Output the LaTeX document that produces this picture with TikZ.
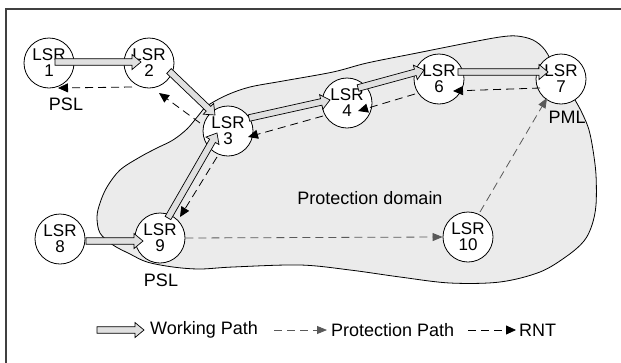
\documentclass[tikz,border=0pt]{standalone}
\usepackage{fontspec}
\setmainfont{Liberation Sans}
\usetikzlibrary{calc,arrows.meta}
\newcommand\fatarrow[2]{%
  \coordinate (fa-a) at #1;
  \coordinate (fa-b) at #2;
  \coordinate (fa-h) at ($(fa-b)!9pt!(fa-a)$);
  \draw[fatarr] ($(fa-a)!3.3pt!90:(fa-b)$) -- ($(fa-h)!3.3pt!-90:(fa-a)$)
    -- ($(fa-h)!7.5pt!-90:(fa-a)$) -- (fa-b) -- ($(fa-h)!7.5pt!90:(fa-a)$)
    -- ($(fa-h)!3.3pt!90:(fa-a)$) -- ($(fa-a)!3.3pt!-90:(fa-b)$) -- cycle;}
\tikzset{
  lsr/.style={circle, draw, fill=white, line width=0.8pt, minimum size=50pt, inner sep=0pt,
    align=center, font=\fontsize{17}{16}\selectfont},
  lbl/.style={inner sep=0pt, font=\fontsize{18}{20}\selectfont},
  fatarr/.style={draw, line width=0.7pt, fill=black!12, line join=miter},
  rnt/.style={draw=black, line width=0.8pt, dash pattern=on 8pt off 5pt,
    -{Triangle[length=10pt,width=9pt]}},
  prot/.style={draw=black!65, line width=0.8pt, dash pattern=on 8pt off 5pt,
    -{Triangle[length=10pt,width=8pt]}},
  cloudst/.style={draw, line width=0.8pt, fill=black!8},
}
\begin{document}
\begin{tikzpicture}[x=1pt,y=-1pt]
\useasboundingbox (0,0) rectangle (621,362);
\clip (0,0) rectangle (621,362);
\draw[line width=1.5pt, black!75] (6,9) rectangle (700,420);
% protection domain
\draw[cloudst] plot[smooth cycle, tension=0.55] coordinates {
 (207,106) (227,95) (250,87) (283,81) (333,72) (367,63) (417,53) (467,43) (500,37)
 (517,36) (533,40) (545,50) (556,70) (575,100) (583,115) (589,130) (593,150) (596,175)
 (596,205) (592,225) (584,241) (567,256) (540,272) (500,282) (450,283) (400,277)
 (350,270) (300,265) (233,267) (200,269) (173,267) (147,262) (130,254) (113,245)
 (100,233) (97,217) (100,203) (107,187) (120,170) (140,157) (157,148) (173,140)
 (187,129) (198,116)};
\node[lbl] (dom) at (370,198) {Protection domain};
% routers
\node[lsr] (n1) at (49,63) {LSR\\1};
\node[lsr] (n2) at (149,63) {LSR\\2};
\node[lsr] (n3) at (228,131) {LSR\\3};
\node[lsr] (n4) at (347,103) {LSR\\4};
\node[lsr] (n6) at (439,79) {LSR\\6};
\node[lsr] (n7) at (561,79) {LSR\\7};
\node[lsr] (n8) at (60,239) {LSR\\8};
\node[lsr] (n9) at (160,238) {LSR\\9};
\node[lsr] (n10) at (468,237) {LSR\\10};
\node[lbl] (psl1) at (66,104) {PSL};
\node[lbl] (psl9) at (161,280) {PSL};
\node[lbl] (pml) at (567,117) {PML};
% protection paths
\draw[prot] (n9.east) -- (n10.west);
\draw[prot] ($(n10)+(12,-25)$) -- ($(n7)+(-14,19)$);
% RNT
\draw[rnt] ($(n7)+(-21,9)$) -- ($(n6)+(14,12)$);
\draw[rnt] ($(n6)+(-24,15)$) -- ($(n4)+(11,8)$);
\draw[rnt] ($(n4)+(-24,13)$) -- ($(n3)+(20,6)$);
\draw[rnt] ($(n3)+(-28,-8)$) -- ($(n2)+(10,30)$);
\draw[rnt] ($(n2)+(-17,24)$) -- ($(n1)+(9,25)$);
\draw[rnt] ($(n3)+(-11,26)$) -- ($(n9)+(20,-21)$);
% working path
\fatarrow{($(n1)+(6,-1)$)}{($(n2)+(-8,-1)$)}
\fatarrow{($(n2)+(20,8)$)}{($(n3)+(-13,-16)$)}
\fatarrow{($(n3)+(21,-13)$)}{($(n4)+(-17,-3)$)}
\fatarrow{($(n4)+(11,-15)$)}{($(n6)+(-15,-9)$)}
\fatarrow{($(n6)+(19,-7)$)}{($(n7)+(-13,-7)$)}
\fatarrow{($(n9)+(8,-20)$)}{($(n3)+(-11,2)$)}
\fatarrow{($(n8)+(26,2)$)}{($(n9)+(-17,3)$)}
% legend
\coordinate (lw1) at (97,330);
\coordinate (lw2) at (144,330);
\fatarrow{(lw1)}{(lw2)}
\node[lbl, anchor=west] (lwt) at (150,330) {Working Path};
\coordinate (lp1) at (274,330);
\coordinate (lp2) at (327,330);
\draw[prot] (lp1) -- (lp2);
\node[lbl, anchor=west] (lpt) at (331,330) {Protection Path};
\coordinate (lr1) at (468,330);
\coordinate (lr2) at (516,330);
\draw[rnt] (lr1) -- (lr2);
\node[lbl, anchor=west] (lrt) at (519,330) {RNT};
\end{tikzpicture}
\end{document}
